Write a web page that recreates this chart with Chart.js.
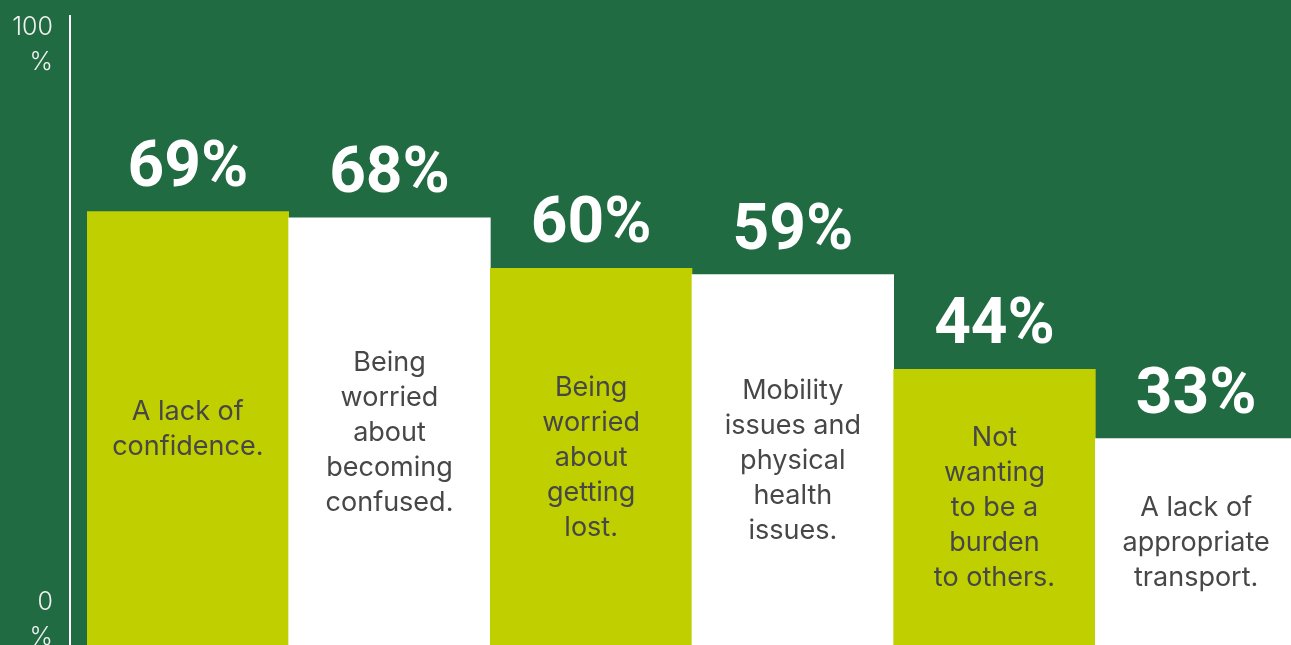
<!DOCTYPE html>
<html>
<head>
<meta charset="utf-8">
<script src="https://cdn.jsdelivr.net/npm/chart.js@4.4.1/dist/chart.umd.min.js"></script>
<style>
  html, body { margin: 0; padding: 0; background: #216b42; overflow: hidden; }
  /* a little wider than the window: the last bar runs off the right edge */
  #wrap { width: 1297px; height: 645px; position: relative; }
</style>
</head>
<body>
<div id="wrap"><canvas id="chart"></canvas></div>
<script>
'use strict';

var categories = [
  'A lack of confidence.',
  'Being worried about becoming confused.',
  'Being worried about getting lost.',
  'Mobility issues and physical health issues.',
  'Not wanting to be a burden to others.',
  'A lack of appropriate transport.'
];
// the same labels, broken the way they are written inside the bars
var categoryLines = [
  ['A lack of', 'confidence.'],
  ['Being', 'worried', 'about', 'becoming', 'confused.'],
  ['Being', 'worried', 'about', 'getting', 'lost.'],
  ['Mobility', 'issues and', 'physical', 'health', 'issues.'],
  ['Not', 'wanting', 'to be a', 'burden', 'to others.'],
  ['A lack of', 'appropriate', 'transport.']
];
var percentages = [69, 68, 60, 59, 44, 33];
var yTickValues = [0, 100];
var yTickLabels = [['0', '%'], ['100', '%']];

var LIME = '#bfcf00';
var WHITE = '#ffffff';

// writes the big value above each bar and the description inside it
var barTextPlugin = {
  id: 'barText',
  afterDatasetsDraw: function(chart) {
    var ctx = chart.ctx;
    var meta = chart.getDatasetMeta(0);
    ctx.save();
    ctx.textAlign = 'center';
    meta.data.forEach(function(bar, i) {
      ctx.fillStyle = WHITE;
      ctx.font = '700 64px Roboto';
      ctx.textBaseline = 'alphabetic';
      ctx.fillText(percentages[i] + '%', bar.x, bar.y - 26);

      var lines = categoryLines[i];
      var lineHeight = 35;
      var mid = (bar.y + bar.base) / 2;
      var startY = mid - (lines.length - 1) * lineHeight / 2;
      ctx.fillStyle = '#474747';
      ctx.font = '400 27px Inter';
      ctx.textBaseline = 'middle';
      lines.forEach(function(line, j) {
        ctx.fillText(line, bar.x, startY + j * lineHeight);
      });
    });
    ctx.restore();
  }
};

var chart = new Chart(document.getElementById('chart'), {
  type: 'bar',
  data: {
    labels: categories,
    datasets: [{
      label: 'Share',
      data: percentages,
      backgroundColor: function(c) { return c.dataIndex % 2 ? WHITE : LIME; },
      borderWidth: 0,
      categoryPercentage: 1,
      barPercentage: 1
    }]
  },
  options: {
    responsive: true,
    maintainAspectRatio: false,
    animation: false,
    layout: { padding: { top: 16, left: 0, right: 0, bottom: 0 } },
    plugins: {
      legend: { display: false },
      tooltip: { enabled: false }
    },
    scales: {
      x: { display: false },
      // value axis, no labels, just leaves the small gap before the first bar
      y: {
        position: 'left',
        weight: 0,
        min: 0.3,
        max: 100,
        grid: { display: false, drawTicks: false },
        border: { display: false },
        ticks: { display: false },
        afterFit: function(s) { s.width = 17; }
      },
      // axis that carries the line and the "100 %" / "0 %" labels
      yLabels: {
        type: 'linear',
        position: 'left',
        weight: 1,
        min: -4.43,
        max: 104.96,
        grid: { display: false, drawTicks: false },
        border: { display: true, color: WHITE, width: 2 },
        afterBuildTicks: function(s) {
          s.ticks = yTickValues.map(function(v) { return { value: v }; });
        },
        ticks: {
          color: '#f0f0f0',
          crossAlign: 'near',
          padding: 17,
          font: { family: 'Inter', weight: '300', size: 25, lineHeight: 1.4 },
          callback: function(value) {
            return yTickLabels[yTickValues.indexOf(value)];
          }
        },
        afterFit: function(s) {
          s.width = 70;
          // labels may run past the plot edge, the original lets them
          s.paddingTop = 0;
          s.paddingBottom = 0;
        }
      }
    }
  },
  plugins: [barTextPlugin]
});
</script>
</body>
</html>
